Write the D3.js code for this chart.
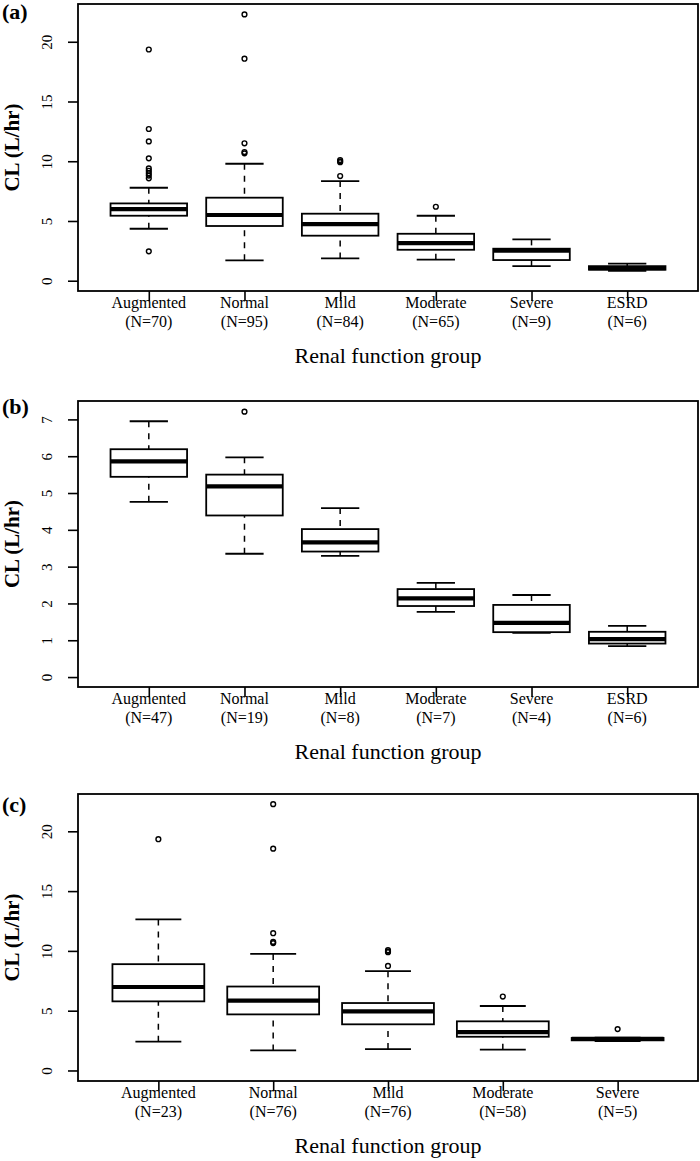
<!DOCTYPE html>
<html>
<head>
<meta charset="utf-8">
<script src="https://cdn.jsdelivr.net/npm/d3@7"></script>
<style>
  html, body { margin: 0; padding: 0; background: #fff; }
  svg { display: block; }
  text { font-family: "Liberation Serif", "Times New Roman", serif; fill: #000; }
</style>
</head>
<body>
<svg id="chart" width="700" height="1161"></svg>
<script>
// ---------- Data ----------
// Panel (a)
const categoriesA = ["Augmented", "Normal", "Mild", "Moderate", "Severe", "ESRD"];
const countsA     = [70, 95, 84, 65, 9, 6];
const lowerA      = [4.35, 1.71, 1.87, 1.76, 1.23, 0.82];
const q1A         = [5.44, 4.58, 3.77, 2.59, 1.73, 0.92];
const medianA     = [6.00, 5.50, 4.74, 3.15, 2.51, 1.06];
const q3A         = [6.47, 6.95, 5.61, 3.93, 2.68, 1.22];
const upperA      = [7.78, 9.79, 8.34, 5.44, 3.46, 1.43];
const outliersA   = [
  [19.35, 12.7, 11.66, 10.24, 9.4, 9.2, 9.0, 8.8, 8.57, 2.46],
  [22.29, 18.58, 11.5, 10.77, 10.66],
  [10.1, 10.0, 9.92, 8.76],
  [6.19],
  [],
  []
];
const ticksA = [0, 5, 10, 15, 20];

// Panel (b)
const categoriesB = ["Augmented", "Normal", "Mild", "Moderate", "Severe", "ESRD"];
const countsB     = [47, 19, 8, 7, 4, 6];
const lowerB      = [4.76, 3.35, 3.29, 1.77, 1.20, 0.84];
const q1B         = [5.44, 4.39, 3.41, 1.93, 1.22, 0.91];
const medianB     = [5.86, 5.18, 3.66, 2.14, 1.47, 1.03];
const q3B         = [6.19, 5.50, 4.02, 2.39, 1.96, 1.23];
const upperB      = [6.95, 5.97, 4.59, 2.56, 2.23, 1.39];
const outliersB   = [[], [7.21], [], [], [], []];
const ticksB = [0, 1, 2, 3, 4, 5, 6, 7];

// Panel (c)
const categoriesC = ["Augmented", "Normal", "Mild", "Moderate", "Severe"];
const countsC     = [23, 76, 76, 58, 5];
const lowerC      = [2.41, 1.68, 1.79, 1.74, 2.46];
const q1C         = [5.78, 4.69, 3.86, 2.82, 2.52];
const medianC     = [6.98, 5.84, 4.95, 3.21, 2.64];
const q3C         = [8.89, 7.02, 5.64, 4.11, 2.72];
const upperC      = [12.63, 9.75, 8.30, 5.39, 2.75];
const outliersC   = [
  [19.34],
  [22.27, 18.55, 11.48, 10.75, 10.65],
  [10.06, 9.95, 9.89, 8.74],
  [6.18],
  [3.46]
];
const ticksC = [0, 5, 10, 15, 20];

const panelLabels = ["(a)", "(b)", "(c)"];
const yTitle = "CL (L/hr)";
const xTitle = "Renal function group";

// ---------- Layout ----------
const svg = d3.select("#chart");
const left = 78, right = 698;

const panels = [
  { label: panelLabels[0], cats: categoriesA, n: countsA, lo: lowerA, q1: q1A, med: medianA, q3: q3A, hi: upperA, out: outliersA,
    ticks: ticksA, domain: [-0.86, 23.16], top: 4, bottom: 291, labelY: 19 },
  { label: panelLabels[1], cats: categoriesB, n: countsB, lo: lowerB, q1: q1B, med: medianB, q3: q3B, hi: upperB, out: outliersB,
    ticks: ticksB, domain: [-0.27, 7.5], top: 401, bottom: 687, labelY: 414 },
  { label: panelLabels[2], cats: categoriesC, n: countsC, lo: lowerC, q1: q1C, med: medianC, q3: q3C, hi: upperC, out: outliersC,
    ticks: ticksC, domain: [-0.88, 23.12], top: 794, bottom: 1081, labelY: 812 }
];

panels.forEach(p => {
  const k = p.cats.length;
  const x = d3.scalePoint().domain(p.cats).range([left, right]).padding((0.08 * k + 1) / 2);
  const y = d3.scaleLinear().domain(p.domain).range([p.bottom, p.top]);
  const step = x.step();
  const bw = 0.8 * step;
  const cw = 0.4 * step;

  const g = svg.append("g");

  // y axis
  const ya = g.append("g").attr("transform", `translate(${left},0)`)
    .call(d3.axisLeft(y).tickValues(p.ticks).tickSize(10).tickFormat(d3.format("d")));
  ya.select(".domain").remove();
  ya.selectAll(".tick line").attr("stroke", "#000").attr("stroke-width", 1.6);
  ya.selectAll(".tick text")
    .attr("x", null).attr("dy", null)
    .attr("transform", "translate(-26,0) rotate(-90)")
    .attr("text-anchor", "middle")
    .style("font-family", '"Liberation Serif", "Times New Roman", serif')
    .style("font-size", "15px")
    .attr("fill", "#000");

  // x axis ticks
  const xa = g.append("g").attr("transform", `translate(0,${p.bottom})`)
    .call(d3.axisBottom(x).tickSize(10).tickFormat(""));
  xa.select(".domain").remove();
  xa.selectAll(".tick line").attr("stroke", "#000").attr("stroke-width", 1.6);

  // category labels
  const lab = g.append("g");
  p.cats.forEach((c, i) => {
    lab.append("text").attr("x", x(c)).attr("y", p.bottom + 17)
      .attr("text-anchor", "middle").style("font-size", "16px").text(c);
    lab.append("text").attr("x", x(c)).attr("y", p.bottom + 36)
      .attr("text-anchor", "middle").style("font-size", "16px").text(`(N=${p.n[i]})`);
  });

  // titles
  g.append("text").attr("x", (left + right) / 2).attr("y", p.bottom + 72)
    .attr("text-anchor", "middle").style("font-size", "22px").text(xTitle);
  g.append("text").attr("transform", `translate(19,${(p.top + p.bottom) / 2}) rotate(-90)`)
    .attr("text-anchor", "middle").style("font-size", "21px").style("font-weight", "bold").text(yTitle);
  g.append("text").attr("x", 2).attr("y", p.labelY)
    .style("font-size", "22px").style("font-weight", "bold").text(p.label);

  // boxes
  p.cats.forEach((c, i) => {
    const cx = x(c);
    const bg = g.append("g");
    // whiskers (dashed, from whisker end to hinge)
    bg.append("line").attr("x1", cx).attr("x2", cx).attr("y1", y(p.hi[i])).attr("y2", y(p.q3[i]))
      .attr("stroke", "#000").attr("stroke-width", 1.5).attr("stroke-dasharray", "6,6");
    bg.append("line").attr("x1", cx).attr("x2", cx).attr("y1", y(p.lo[i])).attr("y2", y(p.q1[i]))
      .attr("stroke", "#000").attr("stroke-width", 1.5).attr("stroke-dasharray", "6,6");
    // caps
    [p.hi[i], p.lo[i]].forEach(v => {
      bg.append("line").attr("x1", cx - cw / 2).attr("x2", cx + cw / 2).attr("y1", y(v)).attr("y2", y(v))
        .attr("stroke", "#000").attr("stroke-width", 1.8);
    });
    // box
    bg.append("rect").attr("x", cx - bw / 2).attr("width", bw)
      .attr("y", y(p.q3[i])).attr("height", Math.max(0, y(p.q1[i]) - y(p.q3[i])))
      .attr("fill", "#fff").attr("stroke", "#000").attr("stroke-width", 1.8);
    // median
    bg.append("line").attr("x1", cx - bw / 2).attr("x2", cx + bw / 2)
      .attr("y1", y(p.med[i])).attr("y2", y(p.med[i]))
      .attr("stroke", "#000").attr("stroke-width", 4.2);
    // outliers
    bg.selectAll("circle").data(p.out[i]).join("circle")
      .attr("cx", cx).attr("cy", d => y(d)).attr("r", 2.4)
      .attr("fill", "none").attr("stroke", "#000").attr("stroke-width", 1.4);
  });

  // frame
  g.append("rect").attr("x", left).attr("y", p.top).attr("width", right - left).attr("height", p.bottom - p.top)
    .attr("fill", "none").attr("stroke", "#000").attr("stroke-width", 1.8);
});
</script>
</body>
</html>
